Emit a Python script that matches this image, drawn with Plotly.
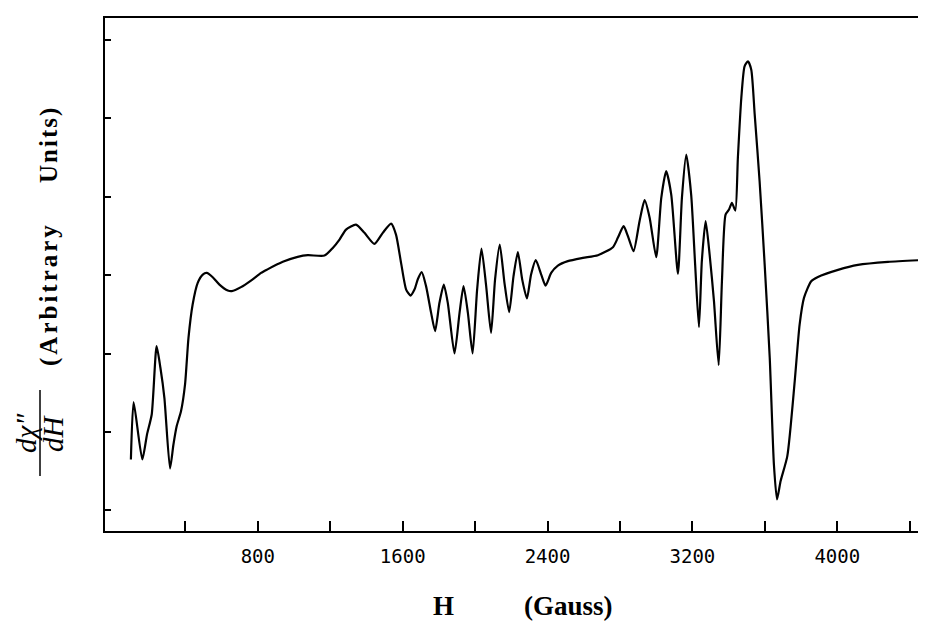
import plotly.graph_objects as go

# Magnetic field (Gauss) and derivative signal (arbitrary units)
H = [99, 114, 162, 188, 214, 241, 262, 284, 315, 334, 352, 376, 398, 417, 440, 468,
     496, 518, 551, 588, 634, 656, 707, 762, 818, 851, 938, 1020, 1076, 1168, 1214,
     1251, 1287, 1342, 1389, 1444, 1490, 1536, 1563, 1591, 1619, 1643, 1665, 1683,
     1705, 1729, 1757, 1779, 1803, 1827, 1849, 1886, 1914, 1936, 1960, 1986, 2011,
     2035, 2061, 2088, 2110, 2136, 2162, 2188, 2212, 2236, 2260, 2286, 2309, 2335,
     2365, 2389, 2420, 2457, 2512, 2595, 2678, 2761, 2788, 2820, 2844, 2875, 2908,
     2936, 2964, 3000, 3028, 3055, 3083, 3120, 3142, 3166, 3193, 3215, 3236, 3252,
     3273, 3295, 3319, 3345, 3363, 3383, 3402, 3418, 3437, 3451, 3470, 3488, 3507,
     3525, 3544, 3571, 3599, 3627, 3650, 3667, 3687, 3724, 3765, 3792, 3816, 3856,
     3893, 4004, 4114, 4280, 4490]
signal = [-2.352, -1.620, -2.352, -2.033, -1.778, -0.906, -1.182, -1.565, -2.467,
          -2.161, -1.926, -1.735, -1.395, -0.800, -0.375, -0.098, 0.008, 0.029,
          -0.026, -0.120, -0.196, -0.204, -0.153, -0.069, 0.029, 0.071, 0.170,
          0.233, 0.255, 0.250, 0.348, 0.454, 0.582, 0.645, 0.540, 0.399, 0.540,
          0.658, 0.518, 0.157, -0.184, -0.260, -0.184, -0.056, 0.038, -0.140,
          -0.481, -0.714, -0.353, -0.120, -0.353, -1.000, -0.481, -0.140, -0.481,
          -1.000, -0.184, 0.339, -0.140, -0.736, -0.056, 0.390, -0.098, -0.472,
          -0.013, 0.293, -0.056, -0.298, 0.008, 0.191, 0.008, -0.133, 0.029, 0.122,
          0.179, 0.221, 0.255, 0.357, 0.476, 0.625, 0.497, 0.306, 0.689, 0.957,
          0.731, 0.230, 0.986, 1.327, 1.028, 0.017, 0.986, 1.538, 1.028, 0.135,
          -0.663, 0.179, 0.689, 0.263, -0.332, -1.148, -0.077, 0.773, 0.837, 0.922,
          0.824, 1.496, 2.261, 2.666, 2.730, 2.622, 2.048, 1.199, 0.135, -1.055,
          -2.416, -2.862, -2.628, -2.309, -1.352, -0.630, -0.290, -0.077, -0.022,
          0.068, 0.131, 0.170, 0.195]

x_tick_vals = [400, 800, 1200, 1600, 2000, 2400, 2800, 3200, 3600, 4000, 4400]
x_tick_text = ["", "800", "", "1600", "", "2400", "", "3200", "", "4000", ""]
y_tick_vals = [-3, -2, -1, 0, 1, 2, 3]

X_RANGE = [-44, 4512]
Y_RANGE = [-3.265, 3.282]

W, HGT = 926, 629
L, R, T, B = 97, 4, 10, 106


def px_x(px):
    return (px - L) / (W - L - R)


def px_y(py):
    return (HGT - B - py) / (HGT - B - T)


fig = go.Figure()
fig.add_trace(go.Scatter(
    x=H, y=signal, mode="lines",
    line=dict(color="black", width=2.2, shape="spline", smoothing=0.6),
    hoverinfo="skip", showlegend=False))
fig.add_trace(go.Scatter(
    x=H, y=signal, mode="lines", yaxis="y2",
    line=dict(color="rgba(0,0,0,0)", width=1), hoverinfo="skip", showlegend=False))

serif = "Liberation Serif"
ann = []
ann.append(dict(text="<i>dχ″</i>", x=px_x(18), y=px_y(425), textangle=-90,
                font=dict(family=serif, size=29, color="black")))
ann.append(dict(text="<i>dH</i>", x=px_x(45), y=px_y(425), textangle=-90,
                font=dict(family=serif, size=29, color="black")))
ann.append(dict(text='<b><span style="letter-spacing:3px">(Arbitrary</span></b>',
                x=px_x(41), y=px_y(286), textangle=-90,
                font=dict(family=serif, size=25, color="black")))
ann.append(dict(text='<b><span style="letter-spacing:2px">Units)</span></b>',
                x=px_x(41), y=px_y(136), textangle=-90,
                font=dict(family=serif, size=25, color="black")))
ann.append(dict(text="<b>H</b>", x=px_x(435), y=px_y(598),
                font=dict(family=serif, size=27, color="black")))
ann.append(dict(text="<b>(Gauss)</b>", x=px_x(560), y=px_y(598),
                font=dict(family=serif, size=27, color="black")))
for a in ann:
    a.update(xref="paper", yref="paper", showarrow=False,
             xanchor="center", yanchor="middle")

fig.update_layout(
    width=W, height=HGT,
    margin=dict(l=L, r=R, t=T, b=B),
    paper_bgcolor="white", plot_bgcolor="white",
    annotations=ann,
    shapes=[dict(type="line", xref="paper", yref="paper",
                 x0=px_x(32), x1=px_x(32), y0=px_y(382), y1=px_y(468),
                 line=dict(color="black", width=1.5))],
    xaxis=dict(range=X_RANGE, showgrid=False, zeroline=False,
               showline=True, linecolor="black", linewidth=2, mirror=True,
               ticks="inside", ticklen=10, tickwidth=1.5, tickcolor="black",
               tickvals=x_tick_vals, ticktext=x_tick_text,
               ticklabelstandoff=7,
               tickfont=dict(family="DejaVu Sans Mono", size=19, color="black")),
    yaxis=dict(range=Y_RANGE, showgrid=False, zeroline=False,
               showline=True, linecolor="black", linewidth=2,
               ticks="inside", ticklen=6, tickwidth=1.5, tickcolor="black",
               tickvals=y_tick_vals, showticklabels=False),
    yaxis2=dict(range=Y_RANGE, overlaying="y", side="right", anchor="x",
                showgrid=False, zeroline=False, showline=False,
                ticks="inside", ticklen=5, tickwidth=3, tickcolor="black",
                tickvals=y_tick_vals, showticklabels=False),
)

fig.write_html("out.html")
